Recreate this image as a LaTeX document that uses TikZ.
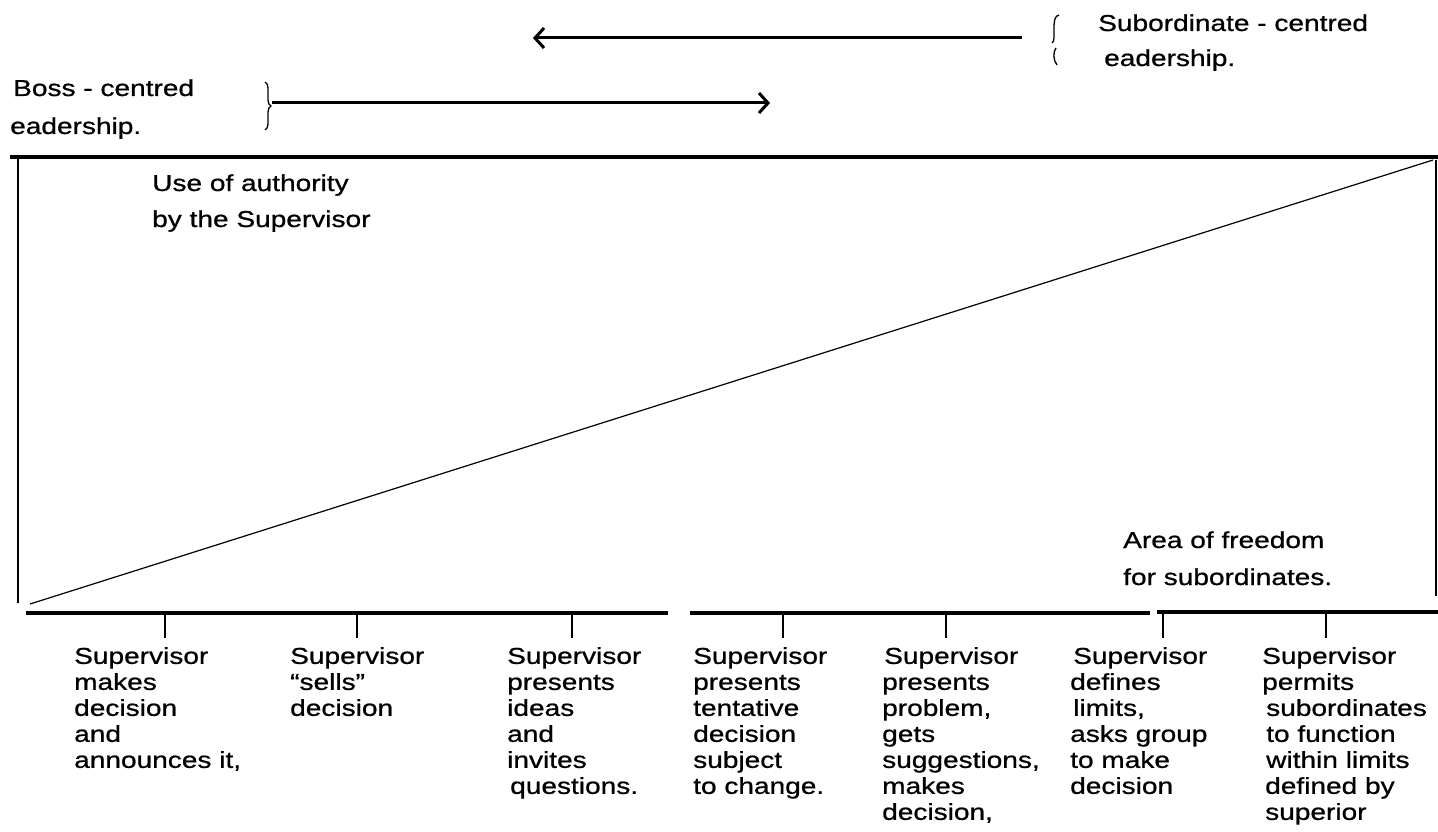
\documentclass[tikz,border=0pt]{standalone}
\usepackage{fontspec}
\setmainfont[FakeStretch=1.22,FakeBold=0.8]{Liberation Sans}
\usetikzlibrary{arrows.meta,decorations.pathreplacing}
\begin{document}
\begin{tikzpicture}[x=1pt,y=-1pt,
  lbl/.style={font=\fontsize{23}{26}\selectfont, inner sep=0pt, align=left},
  colbox/.style={lbl, anchor=north west},
  oneline/.style={lbl, anchor=base west},
  framerule/.style={line width=2pt},
  hrule/.style={line width=3.2pt},
  tickmark/.style={line width=1.4pt},
  slope/.style={line width=1.2pt},
  dirarrow/.style={line width=3pt, -{Straight Barb[length=9pt,width=20pt,line width=3pt]}},
  brc/.style={line width=1.3pt},
]
\useasboundingbox (0,0) rectangle (1438,832);

% direction arrows
\coordinate (subA) at (1022,38);
\coordinate (subB) at (533,38);
\coordinate (bossA) at (272,103);
\coordinate (bossB) at (770,103);
\draw[dirarrow] (subA) -- (subB);
\draw[dirarrow] (bossA) -- (bossB);

% braces
\coordinate (bossTop) at (265,82);
\coordinate (bossBot) at (265,130);
\draw[brc, decorate, decoration={brace, amplitude=6pt}] (bossTop) -- (bossBot);
\draw[brc] (1059,15) .. controls (1055,16) and (1054,20) .. (1054,28)
  -- (1054,38) .. controls (1054,41) and (1053,42) .. (1052,43);
\draw[brc] (1056,48) .. controls (1053,52) and (1053,60) .. (1057,65);

% headings
\node[oneline] (boss1) at (13,96) {Boss - centred};
\node[oneline] (boss2) at (10,134) {eadership.};
\node[oneline] (sub1) at (1098,31) {Subordinate - centred};
\node[oneline] (sub2) at (1104,66) {eadership.};

% frame
\coordinate (tl) at (10,157);
\coordinate (tr) at (1438,157);
\coordinate (lvTop) at (18,155);
\coordinate (lvBot) at (18,603);
\coordinate (rvTop) at (1436,160);
\coordinate (rvBot) at (1436,596);
\coordinate (b0) at (26,613);
\coordinate (b1) at (668,613);
\coordinate (b2) at (690,613);
\coordinate (b3) at (1150,613);
\coordinate (b4) at (1157,612);
\coordinate (b5) at (1438,612);
\draw[hrule] (tl) -- (tr);
\draw[hrule] (b0) -- (b1);
\draw[hrule] (b2) -- (b3);
\draw[hrule] (b4) -- (b5);
\draw[framerule] (lvTop) -- (lvBot);
\draw[framerule] (rvTop) -- (rvBot);

% dividing diagonal
\coordinate (dStart) at (30,604);
\coordinate (dEnd) at (1433,160);
\draw[slope] (dStart) -- (dEnd);

% area labels
\node[oneline] (auth1) at (152,191) {Use of authority};
\node[oneline] (auth2) at (152,227) {by the Supervisor};
\node[oneline] (free1) at (1123,548) {Area of freedom};
\node[oneline] (free2) at (1123,585) {for subordinates.};

% scale ticks
\foreach \i/\x in {1/165,2/357,3/572,4/783,5/946,6/1163,7/1326}{
  \coordinate (t\i a) at (\x,614);
  \coordinate (t\i b) at (\x,638);
  \draw[tickmark] (t\i a) -- (t\i b);
}

% behaviour descriptions
\node[colbox] (c1) at (74,647) {Supervisor\\makes\\decision\\and\\announces it,};
\node[colbox] (c2) at (290,647) {Supervisor\\``sells''\\decision};
\node[colbox] (c3) at (507,647) {Supervisor\\presents\\ideas\\and\\invites\\\hspace*{3pt}questions.};
\node[colbox] (c4) at (693,647) {Supervisor\\presents\\tentative\\decision\\subject\\to change.};
\node[colbox] (c5) at (882,647) {\hspace*{2pt}Supervisor\\presents\\problem,\\gets\\suggestions,\\makes\\decision,};
\node[colbox] (c6) at (1070,647) {\hspace*{3pt}Supervisor\\defines\\\hspace*{3pt}limits,\\asks group\\to make\\decision};
\node[colbox] (c7) at (1262,647) {Supervisor\\permits\\\hspace*{4pt}subordinates\\\hspace*{4pt}to function\\\hspace*{4pt}within limits\\\hspace*{3pt}defined by\\\hspace*{3pt}superior};
\end{tikzpicture}
\end{document}
